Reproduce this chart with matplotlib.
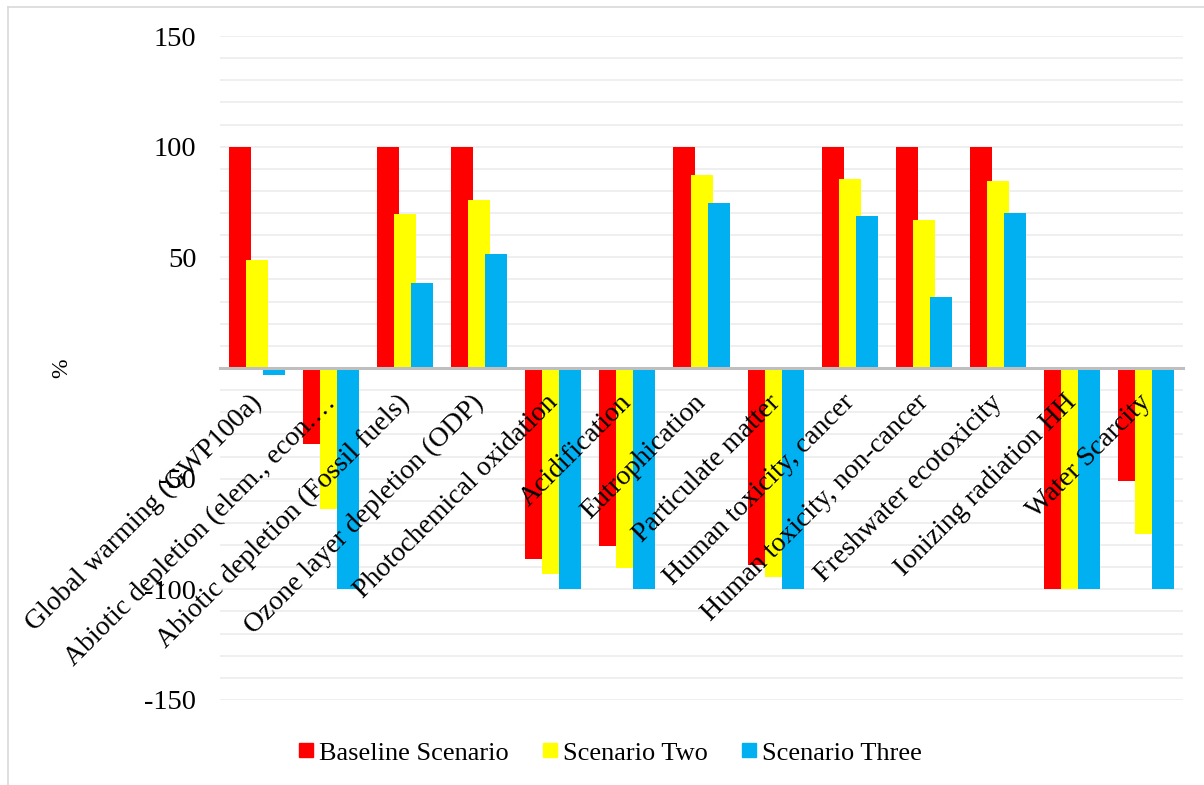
import matplotlib
matplotlib.use("Agg")
import matplotlib.pyplot as plt
import matplotlib.transforms as mtransforms
import numpy as np
from matplotlib.lines import Line2D

categories = [
    "Global warming (GWP100a)",
    "Abiotic depletion (elem., econ.\u2026",
    "Abiotic depletion (Fossil fuels)",
    "Ozone layer depletion (ODP)",
    "Photochemical oxidation",
    "Acidification",
    "Eutrophication",
    "Particulate matter",
    "Human toxicity, cancer",
    "Human toxicity, non-cancer",
    "Freshwater ecotoxicity",
    "Ionizing radiation HH",
    "Water Scarcity",
]
baseline = [100, -34.5, 100, 100, -86.3, -80.4, 100, -88.8, 100, 100, 100, -100, -51]
scenario_two = [49, -63.5, 69.5, 76, -92.9, -90.2, 87.3, -94.6, 85.4, 67, 84.6, -100, -74.8]
scenario_three = [-3, -100, 38.6, 51.4, -100, -100, 74.5, -100, 68.5, 32, 70, -100, -100]
series_names = ["Baseline Scenario", "Scenario Two", "Scenario Three"]
ytick_values = [-150, -100, -50, 0, 50, 100, 150]
ytick_labels = ["-150", "-100", "-50", "", "50", "100", "150"]

colors = ["#FF0000", "#FFFF00", "#00B0F0"]
serif = ["Liberation Serif", "DejaVu Serif"]
plt.rcParams["font.family"] = serif

fig = plt.figure(figsize=(12.04, 7.85), dpi=100)
ax = fig.add_axes([0.1827, 0.1083, 0.7999, 0.8458])

x = np.arange(len(categories))
offsets = [-0.23, 0.0, 0.23]
width = 0.297
for vals, off, col, name in zip([baseline, scenario_two, scenario_three], offsets, colors, series_names):
    ax.bar(x + off, vals, width=width, color=col, label=name, zorder=2, linewidth=0)

ax.set_xlim(-0.5, len(categories) - 0.5)
ax.set_ylim(-150, 150)

# light horizontal gridlines every 10 units
for gy in range(-150, 151, 10):
    if gy != 0:
        ax.axhline(gy, color="#EEEEEE", linewidth=1.3, zorder=0)

for s in ["top", "right", "left"]:
    ax.spines[s].set_visible(False)
ax.spines["bottom"].set_position(("data", 0))
ax.spines["bottom"].set_color("#BFBFBF")
ax.spines["bottom"].set_linewidth(2.2)
ax.spines["bottom"].set_zorder(3)

ax.set_yticks(ytick_values)
ax.set_yticklabels(ytick_labels, fontsize=20.5)
ax.tick_params(axis="y", length=0, pad=17)

# category labels sit on the zero line, drawn above the bars
ax.set_xticks(x)
ax.set_xticklabels([])
ax.tick_params(axis="x", length=0)
label_tf = ax.transData + mtransforms.ScaledTranslation(-8 / 100, -22 / 100, fig.dpi_scale_trans)
for xi, name in zip(x, categories):
    ax.text(xi, 0, name, transform=label_tf, fontsize=20, rotation=45,
            ha="right", va="top", rotation_mode="anchor", zorder=5)

ax.set_ylabel("%", fontsize=17)
ax.yaxis.set_label_coords(-0.153, 0.5)

handles = [Line2D([0], [0], marker="s", linestyle="none", markersize=10,
                  markerfacecolor=c, markeredgecolor=c) for c in colors]
fig.legend(handles, series_names, loc="center", bbox_to_anchor=(0.507, 0.041),
           ncol=3, frameon=False, fontsize=19, handlelength=0.55,
           handletextpad=0.2, columnspacing=1.3)

# outer border (top and left edges)
fig.add_artist(Line2D([8 / 1204, 8 / 1204], [0, 1 - 7 / 785], transform=fig.transFigure,
                      color="#D9D9D9", linewidth=1.2))
fig.add_artist(Line2D([8 / 1204, 1], [1 - 7 / 785, 1 - 7 / 785], transform=fig.transFigure,
                      color="#D9D9D9", linewidth=1.2))

fig.savefig("out.png", dpi=100, facecolor="white")
